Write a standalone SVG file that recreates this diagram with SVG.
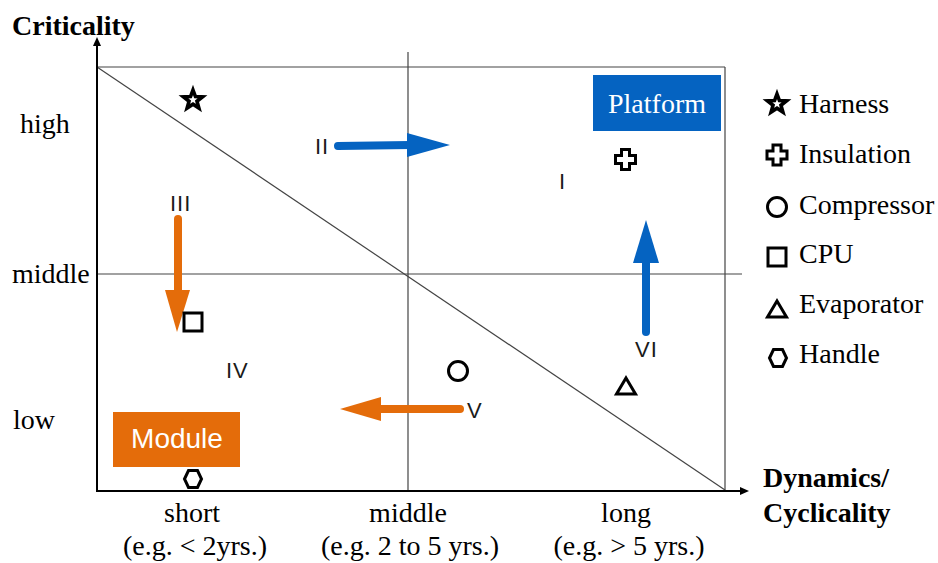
<svg xmlns="http://www.w3.org/2000/svg" width="938" height="563" viewBox="0 0 938 563">
<style>
.serif{font-family:"Liberation Serif","Times New Roman",serif;font-size:28px;fill:#000}
.bold{font-weight:bold}
.num{font-family:"Liberation Sans",Arial,sans-serif;font-size:22px;fill:#1a1a1a;letter-spacing:1px}
.grid{stroke:#444;stroke-width:1.2;fill:none}
.axis{stroke:#000;stroke-width:2;fill:none}
.mk{fill:#fff;stroke:#000;stroke-width:3}
.mks{fill:#fff;stroke:#000;stroke-width:3.6}
.blue{stroke:#0563C1;fill:#0563C1}
.orange{stroke:#E46C0A;fill:#E46C0A}
.shaft{stroke-width:8;stroke-linecap:round;fill:none}
</style>
<defs>
<path id="star" d="M0,-10 L2.45,-3.38 L9.51,-3.09 L3.97,1.29 L5.88,8.09 L0,4.17 L-5.88,8.09 L-3.97,1.29 L-9.51,-3.09 L-2.45,-3.38 Z"/>
<path id="cross" d="M-4,-10 H4 V-4 H10 V4 H4 V10 H-4 V4 H-10 V-4 H-4 Z"/>
<circle id="circ" r="9.5"/>
<rect id="sq" x="-9" y="-9" width="18" height="18"/>
<path id="tri" d="M0,-8 L9.5,8 L-9.5,8 Z"/>
<path id="hex" d="M-8.5,0 L-4.5,-8.5 L4.5,-8.5 L8.5,0 L4.5,8.5 L-4.5,8.5 Z"/>
</defs>
<rect width="938" height="563" fill="#fff"/>
<g id="grid">
<line class="grid" x1="97" y1="67" x2="725" y2="67"/>
<line class="grid" x1="725" y1="67" x2="725" y2="490"/>
<line class="grid" x1="408" y1="52" x2="408" y2="490"/>
<line class="grid" x1="97" y1="274" x2="742" y2="274"/>
<line class="grid" x1="97" y1="67" x2="725" y2="490"/>
</g>
<g id="axes">
<line class="axis" x1="97" y1="491" x2="97" y2="45"/>
<path d="M97,37 L101,46 L93,46 Z" fill="#000"/>
<line class="axis" x1="96" y1="491" x2="740" y2="491"/>
<path d="M749,491 L740,487 L740,495 Z" fill="#000"/>
</g>
<g id="axis-labels">
<text class="serif bold" x="12" y="35">Criticality</text>
<text class="serif" x="20" y="133">high</text>
<text class="serif" x="12" y="283">middle</text>
<text class="serif" x="13" y="429">low</text>
<text class="serif" x="192" y="522" text-anchor="middle">short</text>
<text class="serif" x="195" y="555" text-anchor="middle">(e.g. &lt; 2yrs.)</text>
<text class="serif" x="408" y="522" text-anchor="middle">middle</text>
<text class="serif" x="410" y="555" text-anchor="middle">(e.g. 2 to 5 yrs.)</text>
<text class="serif" x="626" y="522" text-anchor="middle">long</text>
<text class="serif" x="629" y="555" text-anchor="middle">(e.g. &gt; 5 yrs.)</text>
<text class="serif bold" x="763" y="487">Dynamics/</text>
<text class="serif bold" x="763" y="522">Cyclicality</text>
</g>
<g id="platform">
<rect x="593" y="75" width="128" height="56" fill="#0563C1"/>
<text class="serif" x="657" y="113" text-anchor="middle" style="fill:#fff">Platform</text>
</g>
<g id="module">
<rect x="113" y="412" width="127" height="55" fill="#E46C0A"/>
<text x="177" y="448" text-anchor="middle" style="font-family:'Liberation Sans',Arial,sans-serif;font-size:28px;fill:#fff">Module</text>
</g>
<g id="quadrant-labels">
<text class="num" x="315" y="154">II</text>
<text class="num" x="559" y="189">I</text>
<text class="num" x="170" y="211">III</text>
<text class="num" x="226" y="378">IV</text>
<text class="num" x="467" y="418">V</text>
<text class="num" x="635" y="357">VI</text>
</g>
<g id="connectors">
<g id="arrow-II" class="blue">
<line class="shaft" x1="338" y1="146" x2="410" y2="145"/>
<path d="M407,133 L450,145 L407,157 Z" stroke="none"/>
</g>
<g id="arrow-VI" class="blue">
<line class="shaft" x1="646" y1="332" x2="646" y2="258"/>
<path d="M633,263 L646,220 L659,263 Z" stroke="none"/>
</g>
<g id="arrow-III" class="orange">
<line class="shaft" x1="178" y1="219" x2="178" y2="294"/>
<path d="M165,290 L177,332 L190,290 Z" stroke="none"/>
</g>
<g id="arrow-V" class="orange">
<line class="shaft" x1="460" y1="409" x2="378" y2="409"/>
<path d="M381,397 L340,409 L381,421 Z" stroke="none"/>
</g>
</g>
<g id="harness"><use href="#star" class="mks" x="193" y="100"/></g>
<g id="insulation"><use href="#cross" class="mk" x="625.5" y="159.5"/></g>
<g id="compressor"><use href="#circ" class="mk" x="458" y="371"/></g>
<g id="cpu"><use href="#sq" class="mk" x="193" y="322"/></g>
<g id="evaporator"><use href="#tri" class="mk" x="626" y="386"/></g>
<g id="handle"><use href="#hex" class="mk" x="193" y="479"/></g>
<g id="legend">
<use href="#star" class="mks" x="777" y="104"/>
<text class="serif" x="799" y="113">Harness</text>
<use href="#cross" class="mk" x="777" y="155"/>
<text class="serif" x="799" y="163">Insulation</text>
<use href="#circ" class="mk" x="777" y="207"/>
<text class="serif" x="799" y="214">Compressor</text>
<use href="#sq" class="mk" x="777" y="257"/>
<text class="serif" x="799" y="263">CPU</text>
<use href="#tri" class="mk" x="777" y="309"/>
<text class="serif" x="799" y="313">Evaporator</text>
<use href="#hex" class="mk" x="778" y="358"/>
<text class="serif" x="799" y="363">Handle</text>
</g>
</svg>
